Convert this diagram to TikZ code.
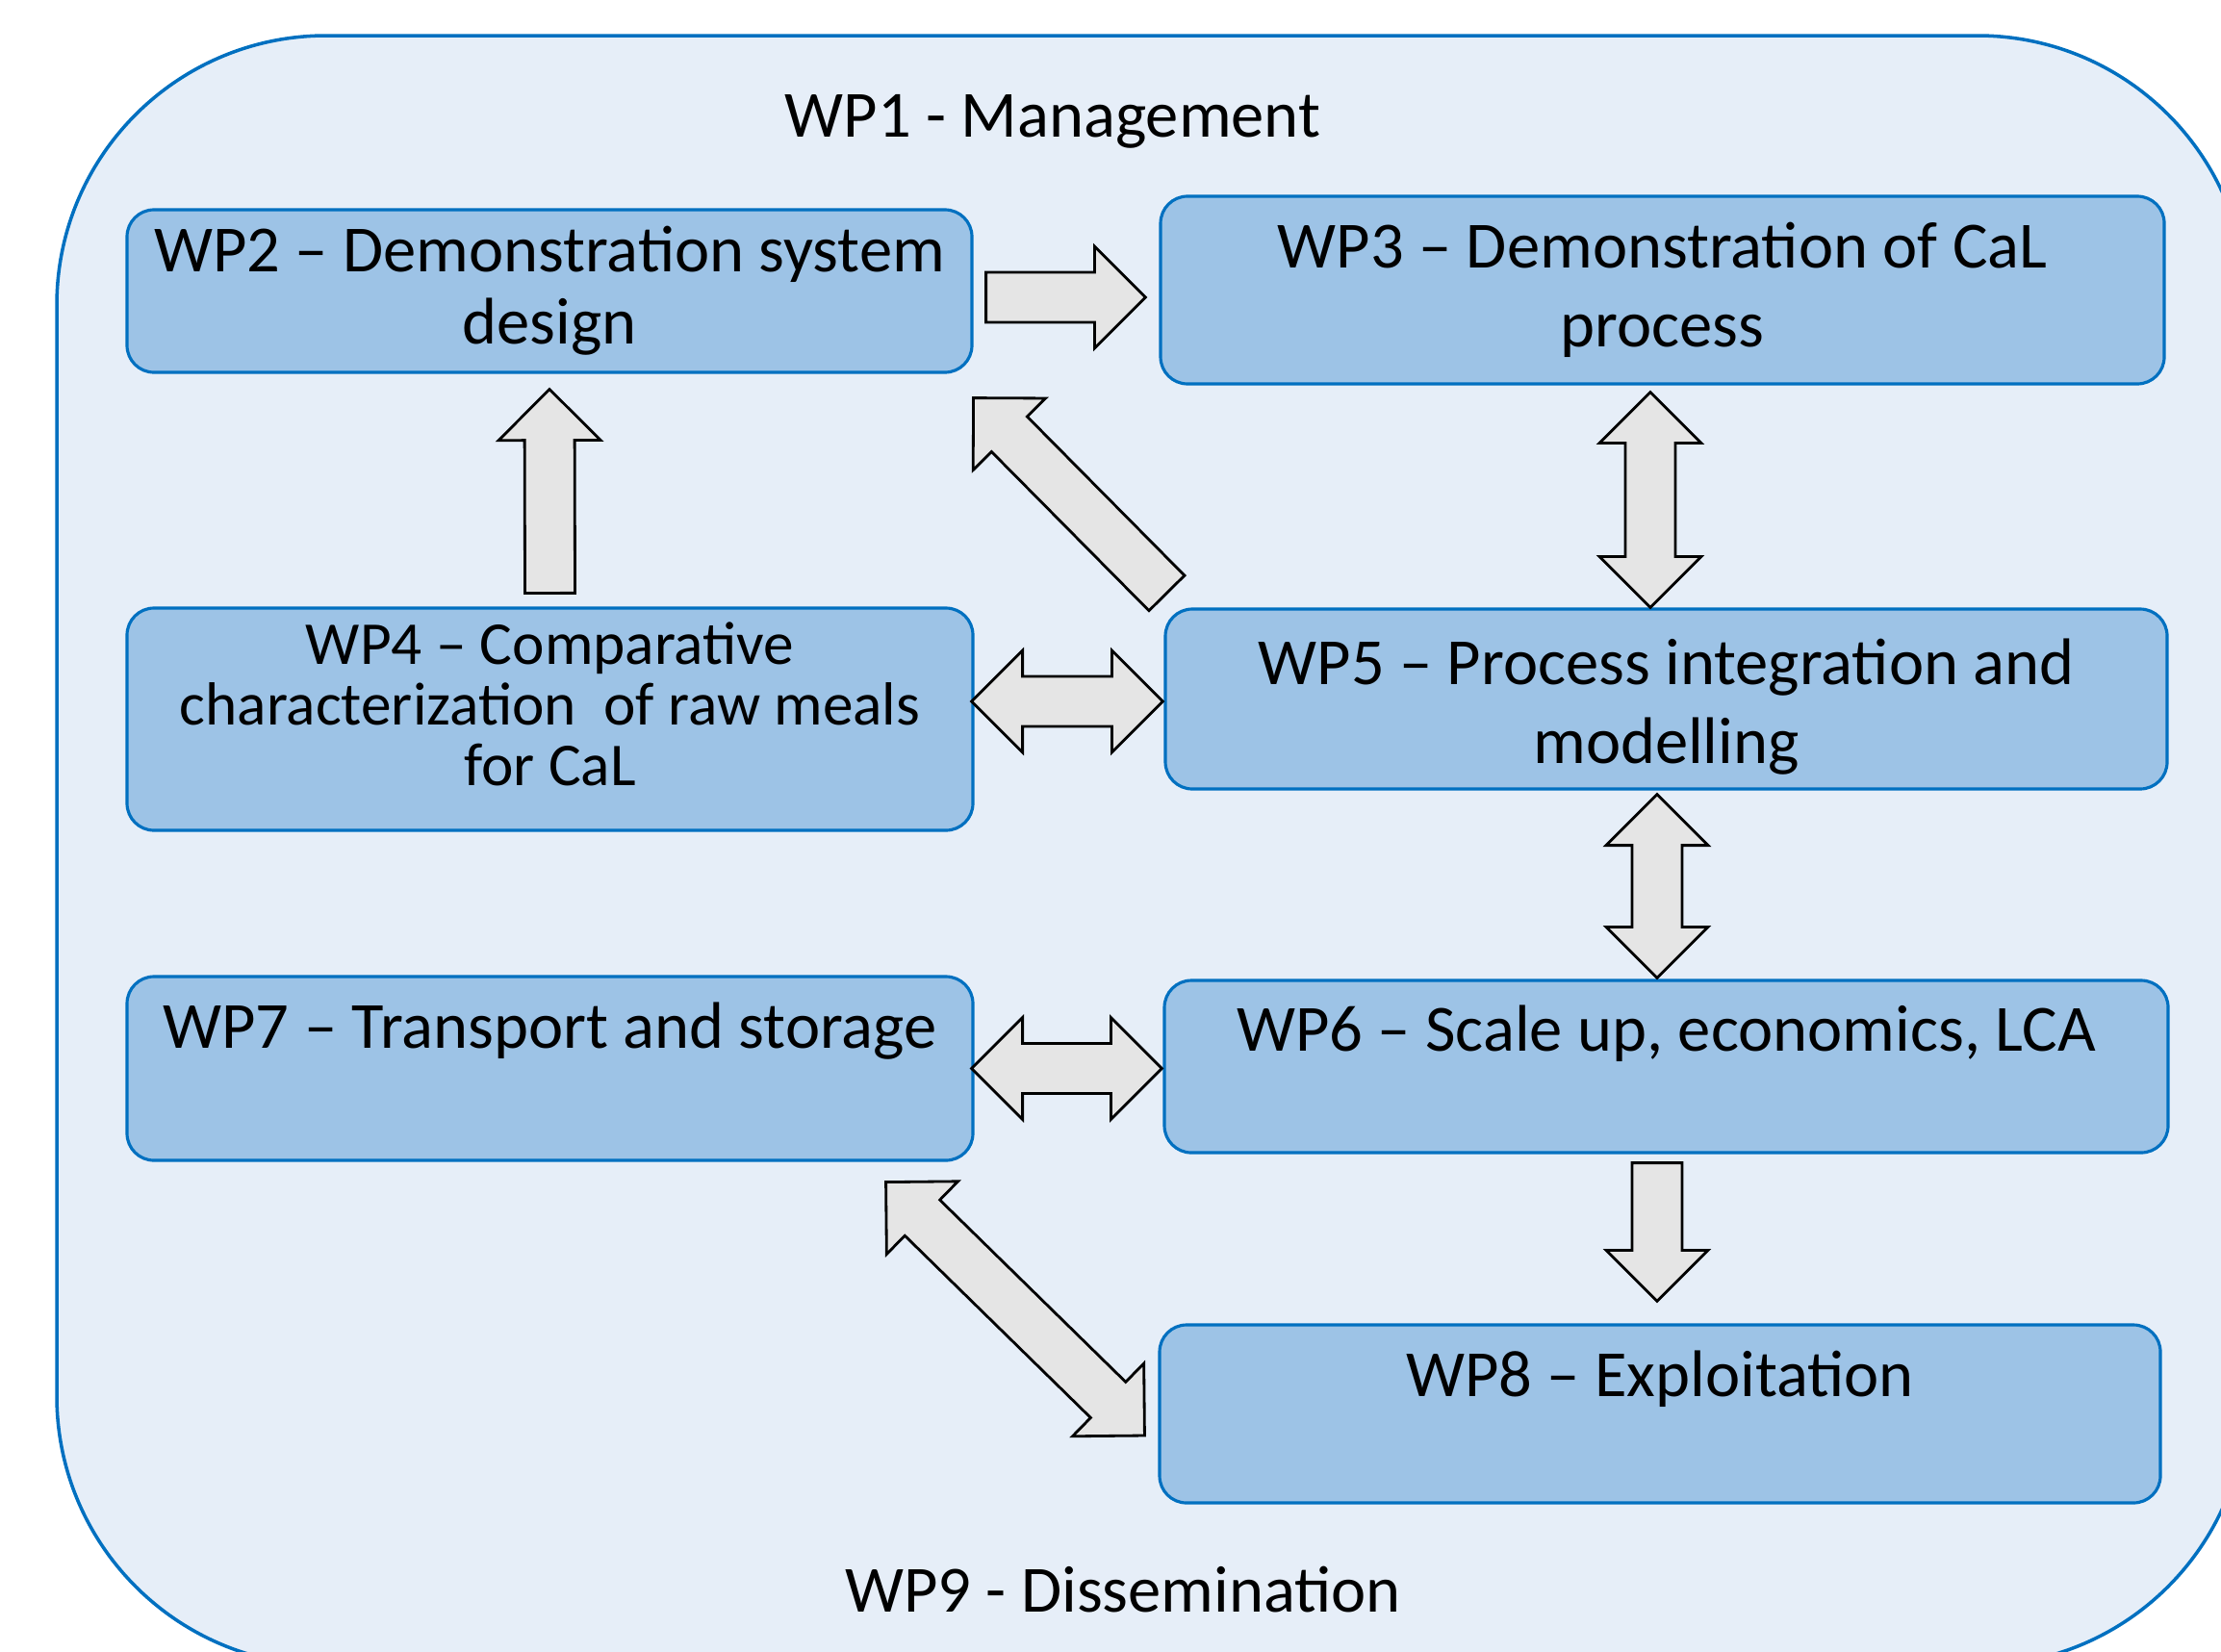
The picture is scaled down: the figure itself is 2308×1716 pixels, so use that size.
\documentclass[tikz,border=0pt]{standalone}
\usepackage{fontspec}
\setmainfont{Carlito}
\usetikzlibrary{calc}
\definecolor{frameBd}{HTML}{0070C0}
\definecolor{frameFl}{HTML}{E6EEF8}
\definecolor{wpBd}{HTML}{0070C0}
\definecolor{wpFl}{HTML}{9DC3E6}
\definecolor{arrFl}{HTML}{E5E5E5}
\newcommand{\wpfont}{\fontsize{19.5pt}{23.4pt}\selectfont}
\newcommand{\arrshaft}{2.6mm}
\newcommand{\arrhead}{5.3mm}
% block arrow: tail #1 -> tip #2 (named coordinates)
\newcommand{\blockarrow}[2]{%
  \coordinate (nk) at ($(#2)!\arrhead!(#1)$);
  \draw[blockar] ($(#1)!\arrshaft!90:(#2)$) -- ($(nk)!\arrshaft!90:(#2)$)
    -- ($(nk)!\arrhead!90:(#2)$) -- (#2) -- ($(nk)!\arrhead!-90:(#2)$)
    -- ($(nk)!\arrshaft!-90:(#2)$) -- ($(#1)!\arrshaft!-90:(#2)$) -- cycle;}
% double block arrow between tips #1 and #2
\newcommand{\dblockarrow}[2]{%
  \coordinate (nka) at ($(#1)!\arrhead!(#2)$);
  \coordinate (nkb) at ($(#2)!\arrhead!(#1)$);
  \draw[blockar] (#1) -- ($(nka)!\arrhead!90:(#2)$) -- ($(nka)!\arrshaft!90:(#2)$)
    -- ($(nkb)!\arrshaft!90:(#2)$) -- ($(nkb)!\arrhead!90:(#2)$) -- (#2)
    -- ($(nkb)!\arrhead!-90:(#2)$) -- ($(nkb)!\arrshaft!-90:(#2)$)
    -- ($(nka)!\arrshaft!-90:(#2)$) -- ($(nka)!\arrhead!-90:(#2)$) -- cycle;}

\begin{document}
\begin{tikzpicture}[
  x=0.1mm, y=-0.1mm,
  font=\wpfont,
  frame/.style={draw=frameBd, fill=frameFl, line width=1pt, rounded corners=28mm,
                minimum width=227.6mm, minimum height=169.4mm},
  wpbox/.style={draw=wpBd, fill=wpFl, line width=0.9pt, rounded corners=2.8mm,
                align=center, inner sep=0pt},
  toptext/.style={text height=4.6mm, text depth=#1},
  blockar/.style={draw=black, fill=arrFl, line width=0.8pt, line join=miter},
]
\useasboundingbox (0,0) rectangle (2308,1716);
\clip (0,0) rectangle (2308,1716);

% ---------- management / dissemination frame ----------
\node[frame] (wp1) at (1197,884) {};
\node[anchor=base] (wp1lbl) at (1094,142) {WP1 - Management};
\node[anchor=base] (wp9lbl) at (1167,1675) {WP9 - Dissemination};

% ---------- work packages ----------
\node[wpbox, minimum width=87.8mm, minimum height=16.9mm,
      font=\fontsize{19.5pt}{21.3pt}\selectfont] (wp2) at (571,302.5)
  {WP2 – Demonstration system\\design};
\node[wpbox, minimum width=104.3mm, minimum height=19.5mm] (wp3) at (1727.5,301.5)
  {WP3 – Demonstration of CaL\\process};
\node[wpbox, minimum width=87.9mm, minimum height=23.1mm,
      font=\fontsize{18pt}{17.9pt}\selectfont] (wp4) at (571.5,747.5)
  {WP4 – Comparative\\characterization\ \ of raw meals\\for CaL\rule[-3.2mm]{0pt}{0pt}};
\node[wpbox, minimum width=104.1mm, minimum height=18.7mm] (wp5) at (1731.5,726.5)
  {\rule{0pt}{6.3mm}WP5 – Process integration and\\modelling};
\node[wpbox, toptext=8.9mm, minimum width=87.9mm, minimum height=19.1mm] (wp7) at (571.5,1110.5)
  {WP7 – Transport and storage};
\node[wpbox, toptext=7.9mm, minimum width=104.3mm, minimum height=17.9mm] (wp6) at (1731.5,1108.5)
  {WP6 – Scale up, economics, LCA};
\node[wpbox, toptext=8.3mm, minimum width=104mm, minimum height=18.5mm] (wp8) at (1725,1469.5)
  {WP8 – Exploitation};

% ---------- arrow end points ----------
\coordinate (a23t) at ($(wp2.east)+(13,6.5)$);
\coordinate (a23h) at ($(wp3.west)+(-14,7.5)$);
\coordinate (a42t) at ($(wp4.north)+(0,-14)$);
\coordinate (a42h) at ($(wp2.south)+(0,16)$);
\coordinate (a52t) at ($(wp5.north west)+(3,-15)$);
\coordinate (a52h) at ($(wp2.south east)+(0,25)$);
\coordinate (a35a) at ($(wp3.south)+(-12.5,7)$);
\coordinate (a35b) at ($(wp5.north)+(-16.5,0)$);
\coordinate (a45a) at ($(wp4.east)+(-3,-18.5)$);
\coordinate (a45b) at ($(wp5.west)+(-1,2.5)$);
\coordinate (a56a) at ($(wp5.south)+(-9.5,4)$);
\coordinate (a56b) at ($(wp6.north)+(-9.5,-1)$);
\coordinate (a76a) at ($(wp7.east)+(-3,0)$);
\coordinate (a76b) at ($(wp6.west)+(-1,2)$);
\coordinate (a68t) at ($(wp6.south)+(-9.5,9)$);
\coordinate (a68h) at ($(wp8.north)+(-3,-23)$);
\coordinate (a78a) at ($(wp7.south east)+(-92,21)$);
\coordinate (a78b) at ($(wp8.west)+(-14,22.5)$);

% ---------- block arrows ----------
\blockarrow{a23t}{a23h}
\blockarrow{a42t}{a42h}
\blockarrow{a52t}{a52h}
\blockarrow{a68t}{a68h}
\dblockarrow{a35a}{a35b}
\dblockarrow{a45a}{a45b}
\dblockarrow{a56a}{a56b}
\dblockarrow{a76a}{a76b}
\dblockarrow{a78a}{a78b}

\end{tikzpicture}
\end{document}
